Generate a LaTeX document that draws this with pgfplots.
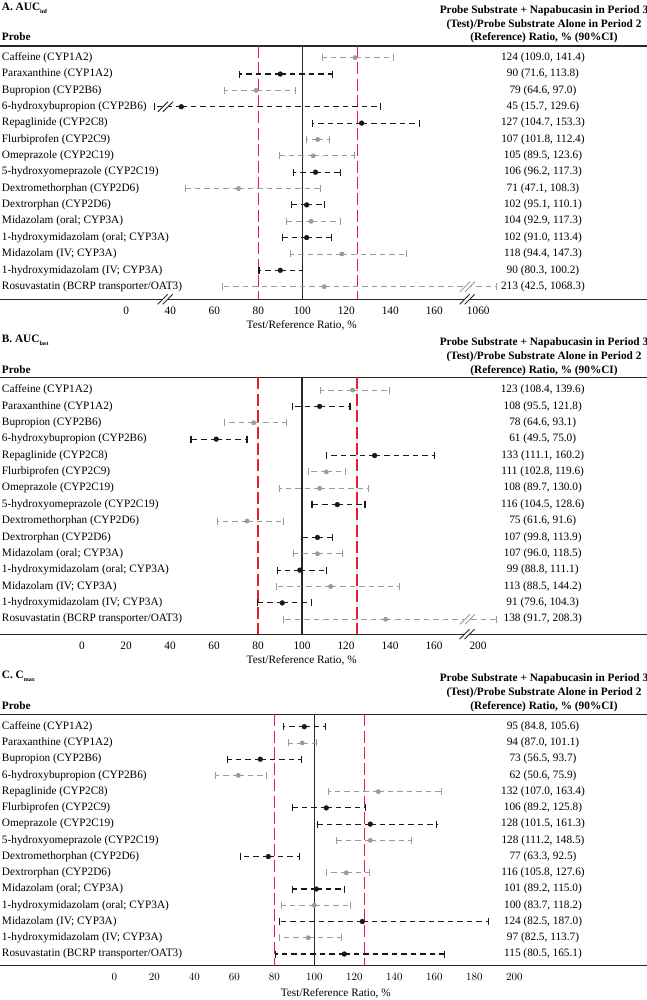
\documentclass[border=0pt]{standalone}
\usepackage{fontspec}
\setmainfont{Liberation Serif}
\usepackage{pgfplots}
\usepackage{pgfplotstable}
\pgfplotsset{compat=1.18}
\definecolor{cired}{RGB}{230,30,45}
\definecolor{cigray}{RGB}{155,155,155}
\definecolor{ciblack}{RGB}{25,25,25}
\definecolor{rulegray}{RGB}{40,40,40}
\newcommand\fs{\fontsize{11.3}{13.7}\selectfont}

% Panel A (AUCinf): drawn positions; 6-OH-bupropion lower end sits at the axis break,
% Rosuvastatin upper 1068.3 is drawn at 188.3 beyond the 160|1060 break
\pgfplotstableread{
row est lo hi
1 124 109.0 141.4
3 79 64.6 97.0
6 107 101.8 112.4
7 105 89.5 123.6
9 71 47.1 108.3
11 104 92.9 117.3
13 118 94.4 147.3
15 110 63.6 188.3
}\Agray
\pgfplotstableread{
row est lo hi
2 90 71.6 113.8
4 45 33.0 135.6
5 127 104.7 153.3
8 106 96.2 117.3
10 102 95.1 110.1
12 102 91.0 113.4
14 90 80.3 100.2
}\Ablack
% Panel B (AUClast): Rosuvastatin upper 208.3 drawn at 188.3 (tick 200 at 180)
\pgfplotstableread{
row est lo hi
1 123 108.4 139.6
3 78 64.6 93.1
6 111 102.8 119.6
7 108 89.7 130.0
9 75 61.6 91.6
11 107 96.0 118.5
13 113 88.5 144.2
15 138 91.7 188.3
}\Bgray
\pgfplotstableread{
row est lo hi
2 108 95.5 121.8
4 61 49.5 75.0
5 133 111.1 160.2
8 116 104.5 128.6
10 107 99.8 113.9
12 99 88.8 111.1
14 91 79.6 104.3
}\Bblack
% Panel C (Cmax)
\pgfplotstableread{
row est lo hi
2 94 87.0 101.1
4 62 50.6 75.9
5 132 107.0 163.4
8 128 111.2 148.5
10 116 105.8 127.6
12 100 83.7 118.2
14 97 82.5 113.7
}\Cgray
\pgfplotstableread{
row est lo hi
1 95 84.8 105.6
3 73 56.5 93.7
6 106 89.2 125.8
7 128 101.5 161.3
9 77 63.3 92.5
11 101 89.2 115.0
13 124 82.5 187.0
15 115 80.5 165.1
}\Cblack

\pgfplotsset{
  forest/.style={
    scale only axis, clip=false, width=647pt,
    y dir=reverse,
    separate axis lines,
    x axis line style={line width=1.4pt, rulegray},
    y axis line style={draw=none},
    major tick length=0pt, tick style={draw=none},
    tick label style={font=\fs},
    xticklabel style={yshift=-4pt},
    ytick={1,...,15},
    yticklabels={Caffeine (CYP1A2),Paraxanthine (CYP1A2),Bupropion (CYP2B6),6-hydroxybupropion (CYP2B6),Repaglinide (CYP2C8),Flurbiprofen (CYP2C9),Omeprazole (CYP2C19),5-hydroxyomeprazole (CYP2C19),Dextromethorphan (CYP2D6),Dextrorphan (CYP2D6),Midazolam (oral; CYP3A),1-hydroxymidazolam (oral; CYP3A),Midazolam (IV; CYP3A),1-hydroxymidazolam (IV; CYP3A),Rosuvastatin (BCRP transporter/OAT3)},
    yticklabel style={anchor=west, xshift=-2pt},
  },
  blackci/.style={only marks, mark=*, mark size=2.4pt, color=ciblack,
    error bars/.cd, x dir=both, x explicit,
    error bar style={line width=1.15pt, dash pattern=on 5.5pt off 4pt},
    error mark options={rotate=90, solid, line width=1.15pt, mark size=3.5pt}},
  grayci/.style={only marks, mark=*, mark size=2.2pt, color=cigray,
    error bars/.cd, x dir=both, x explicit,
    error bar style={line width=0.8pt, dash pattern=on 5.5pt off 4pt},
    error mark options={rotate=90, solid, line width=0.8pt, mark size=3.5pt}},
  vals/.style={draw=none, nodes near coords, point meta=explicit symbolic,
    every node near coord/.append style={anchor=center, text=black, font=\fs}},
}
\newcommand{\brk}[3]{%
  \fill[white, shift={(axis cs:#1,#2)}] (-7.5pt,-5pt) -- (2.5pt,5pt) -- (7.5pt,5pt) -- (-2.5pt,-5pt) -- cycle;
  \draw[#3, line width=0.9pt, shift={(axis cs:#1,#2)}] (-7.5pt,-5pt) -- (2.5pt,5pt) (-2.5pt,-5pt) -- (7.5pt,5pt);
}

\begin{document}
\fs
\begin{tikzpicture}[font=\fs]
\useasboundingbox (0pt,0pt) rectangle (647pt,1000pt);

% ---------- Panel A ----------
\node[anchor=base west, inner sep=0, font=\fs\bfseries] at (1.7pt,989.5pt) {A. AUC\raisebox{-3pt}{\fontsize{6}{6}\selectfont inf}};
\node[anchor=base, inner sep=0, font=\fs\bfseries] at (544pt,986.3pt) {Probe Substrate + Napabucasin in Period 3};
\node[anchor=base, inner sep=0, font=\fs\bfseries] at (544pt,972.3pt) {(Test)/Probe Substrate Alone in Period 2};
\node[anchor=base, inner sep=0, font=\fs\bfseries] at (544pt,959pt) {(Reference) Ratio, \% (90\%CI)};
\node[anchor=base west, inner sep=0, font=\fs\bfseries] at (1.7pt,959pt) {Probe};
\node[anchor=base, inner sep=0] at (301.7pt,671.3pt) {Test/Reference Ratio, \%};
\begin{axis}[forest, at={(0pt,954pt)}, anchor=north west, height=253.3pt,
  xmin=-37.4, xmax=256.7, ymin=0.285, ymax=15.77,
  xtick={20,40,60,80,100,120,140,160,180},
  xticklabels={0,40,60,80,100,120,140,160,1060}]
\addplot[rulegray, line width=1.2pt] coordinates {(100,0.285) (100,15.77)};
\addplot[cired, line width=1.4pt, dash pattern=on 12pt off 4.36pt] coordinates {(80,0.285) (80,15.77)};
\addplot[cired, line width=1.4pt, dash pattern=on 12pt off 4.36pt] coordinates {(125,0.285) (125,15.77)};
\addplot[grayci] table[x=est, y=row, x error plus expr=\thisrow{hi}-\thisrow{est}, x error minus expr=\thisrow{est}-\thisrow{lo}] {\Agray};
\addplot[blackci] table[x=est, y=row, x error plus expr=\thisrow{hi}-\thisrow{est}, x error minus expr=\thisrow{est}-\thisrow{lo}] {\Ablack};
\addplot[vals] coordinates {
(209.4,1) [124 (109.0, 141.4)] (209.4,2) [90 (71.6, 113.8)] (209.4,3) [79 (64.6, 97.0)]
(209.4,4) [45 (15.7, 129.6)] (209.4,5) [127 (104.7, 153.3)] (209.4,6) [107 (101.8, 112.4)]
(209.4,7) [105 (89.5, 123.6)] (209.4,8) [106 (96.2, 117.3)] (209.4,9) [71 (47.1, 108.3)]
(209.4,10) [102 (95.1, 110.1)] (209.4,11) [104 (92.9, 117.3)] (209.4,12) [102 (91.0, 113.4)]
(209.4,13) [118 (94.4, 147.3)] (209.4,14) [90 (80.3, 100.2)] (209.4,15) [213 (42.5, 1068.3)]};
\brk{37.8}{4}{ciblack}
\brk{175.1}{15}{cigray}
\brk{37.7}{15.77}{rulegray}
\brk{175.0}{15.77}{rulegray}
\end{axis}

% ---------- Panel B ----------
\node[anchor=base west, inner sep=0, font=\fs\bfseries] at (1.7pt,657.5pt) {B. AUC\raisebox{-3pt}{\fontsize{6}{6}\selectfont last}};
\node[anchor=base, inner sep=0, font=\fs\bfseries] at (544pt,654pt) {Probe Substrate + Napabucasin in Period 3};
\node[anchor=base, inner sep=0, font=\fs\bfseries] at (544pt,640.3pt) {(Test)/Probe Substrate Alone in Period 2};
\node[anchor=base, inner sep=0, font=\fs\bfseries] at (544pt,626.3pt) {(Reference) Ratio, \% (90\%CI)};
\node[anchor=base west, inner sep=0, font=\fs\bfseries] at (1.7pt,626.5pt) {Probe};
\node[anchor=base, inner sep=0] at (301.7pt,336.3pt) {Test/Reference Ratio, \%};
\begin{axis}[forest, at={(0pt,622.5pt)}, anchor=north west, height=256.8pt,
  xmin=-37.3, xmax=256.8, ymin=0.236, ymax=15.917,
  xtick={0,20,40,60,80,100,120,140,160,180},
  xticklabels={0,20,40,60,80,100,120,140,160,200}]
\addplot[rulegray, line width=1.2pt] coordinates {(100,0.236) (100,15.917)};
\addplot[cired, line width=1.4pt, dash pattern=on 12pt off 4.36pt] coordinates {(80,0.236) (80,15.917)};
\addplot[cired, line width=1.4pt, dash pattern=on 12pt off 4.36pt] coordinates {(125,0.236) (125,15.917)};
\addplot[grayci] table[x=est, y=row, x error plus expr=\thisrow{hi}-\thisrow{est}, x error minus expr=\thisrow{est}-\thisrow{lo}] {\Bgray};
\addplot[blackci] table[x=est, y=row, x error plus expr=\thisrow{hi}-\thisrow{est}, x error minus expr=\thisrow{est}-\thisrow{lo}] {\Bblack};
\addplot[vals] coordinates {
(209.4,1) [123 (108.4, 139.6)] (209.4,2) [108 (95.5, 121.8)] (209.4,3) [78 (64.6, 93.1)]
(209.4,4) [61 (49.5, 75.0)] (209.4,5) [133 (111.1, 160.2)] (209.4,6) [111 (102.8, 119.6)]
(209.4,7) [108 (89.7, 130.0)] (209.4,8) [116 (104.5, 128.6)] (209.4,9) [75 (61.6, 91.6)]
(209.4,10) [107 (99.8, 113.9)] (209.4,11) [107 (96.0, 118.5)] (209.4,12) [99 (88.8, 111.1)]
(209.4,13) [113 (88.5, 144.2)] (209.4,14) [91 (79.6, 104.3)] (209.4,15) [138 (91.7, 208.3)]};
\brk{175.2}{15}{cigray}
\brk{175.0}{15.917}{rulegray}
\end{axis}

% ---------- Panel C ----------
\node[anchor=base west, inner sep=0, font=\fs\bfseries] at (1.7pt,321.5pt) {C. C\raisebox{-3pt}{\fontsize{6}{6}\selectfont max}};
\node[anchor=base, inner sep=0, font=\fs\bfseries] at (544pt,318pt) {Probe Substrate + Napabucasin in Period 3};
\node[anchor=base, inner sep=0, font=\fs\bfseries] at (544pt,304pt) {(Test)/Probe Substrate Alone in Period 2};
\node[anchor=base, inner sep=0, font=\fs\bfseries] at (544pt,290.6pt) {(Reference) Ratio, \% (90\%CI)};
\node[anchor=base west, inner sep=0, font=\fs\bfseries] at (1.7pt,290.8pt) {Probe};
\node[anchor=base, inner sep=0] at (335.8pt,4pt) {Test/Reference Ratio, \%};
\begin{axis}[forest, at={(0pt,285.7pt)}, anchor=north west, height=251.4pt,
  xmin=-57.15, xmax=266.35, ymin=0.236, ymax=15.72,
  xtick={0,20,...,200}]
\addplot[rulegray, line width=1.2pt] coordinates {(100,0.236) (100,15.72)};
\addplot[cired, line width=1.4pt, dash pattern=on 12pt off 4.24pt] coordinates {(80,0.236) (80,15.72)};
\addplot[cired, line width=1.4pt, dash pattern=on 12pt off 4.24pt] coordinates {(125,0.236) (125,15.72)};
\addplot[grayci] table[x=est, y=row, x error plus expr=\thisrow{hi}-\thisrow{est}, x error minus expr=\thisrow{est}-\thisrow{lo}] {\Cgray};
\addplot[blackci] table[x=est, y=row, x error plus expr=\thisrow{hi}-\thisrow{est}, x error minus expr=\thisrow{est}-\thisrow{lo}] {\Cblack};
\addplot[vals] coordinates {
(214.35,1) [95 (84.8, 105.6)] (214.35,2) [94 (87.0, 101.1)] (214.35,3) [73 (56.5, 93.7)]
(214.35,4) [62 (50.6, 75.9)] (214.35,5) [132 (107.0, 163.4)] (214.35,6) [106 (89.2, 125.8)]
(214.35,7) [128 (101.5, 161.3)] (214.35,8) [128 (111.2, 148.5)] (214.35,9) [77 (63.3, 92.5)]
(214.35,10) [116 (105.8, 127.6)] (214.35,11) [101 (89.2, 115.0)] (214.35,12) [100 (83.7, 118.2)]
(214.35,13) [124 (82.5, 187.0)] (214.35,14) [97 (82.5, 113.7)] (214.35,15) [115 (80.5, 165.1)]};
\end{axis}
\end{tikzpicture}
\end{document}
